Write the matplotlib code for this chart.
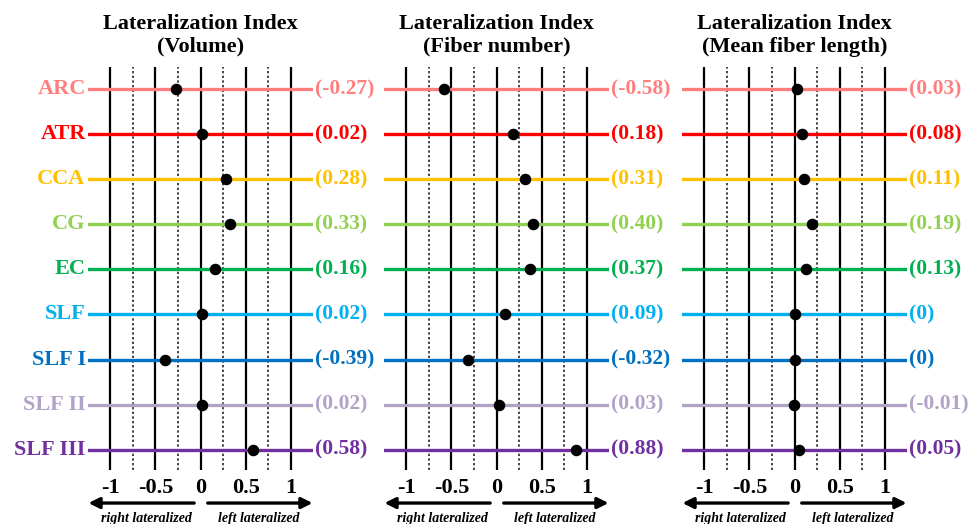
import matplotlib
matplotlib.use("Agg")
import matplotlib.pyplot as plt

# tract names and colours
tracts = ['ARC', 'ATR', 'CCA', 'CG', 'EC', 'SLF', 'SLF I', 'SLF II', 'SLF III']
colors = ['#FF7F7F', '#FF0000', '#FFC000', '#92D050', '#00B050',
          '#00B0F0', '#0070C0', '#B3A2C7', '#7030A0']

# lateralization index values
li_volume = [-0.27, 0.02, 0.28, 0.33, 0.16, 0.02, -0.39, 0.02, 0.58]
li_fiber_number = [-0.58, 0.18, 0.31, 0.40, 0.37, 0.09, -0.32, 0.03, 0.88]
li_fiber_length = [0.03, 0.08, 0.11, 0.19, 0.13, 0, 0, -0.01, 0.05]

titles = ['Lateralization Index\n(Volume)',
          'Lateralization Index\n(Fiber number)',
          'Lateralization Index\n(Mean fiber length)']
tick_vals = [-1, -0.5, 0, 0.5, 1]
tick_labels = ['-1', '-0.5', '0', '0.5', '1']

plt.rcParams['font.family'] = ['Liberation Serif', 'DejaVu Serif']

W, H = 971, 524
fig = plt.figure(figsize=(W / 100, H / 100), dpi=100)

panel_left = [88, 384, 682]  # pixel left edge of each panel
panel_w = 225
ax_top, ax_bot = 67, 470


def fmt(v):
    return '(0)' if v == 0 else f'({v:.2f})'


for k, (vals, title) in enumerate(zip([li_volume, li_fiber_number, li_fiber_length], titles)):
    ax = fig.add_axes([panel_left[k] / W, (H - ax_bot) / H, panel_w / W, (ax_bot - ax_top) / H])
    ax.set_xlim(-1.245, 1.245)
    ax.set_ylim(8.45, -0.49)

    # vertical grid: solid on the ticks, dotted in between
    for x in tick_vals:
        ax.axvline(x, color='black', lw=1.6, zorder=1)
    for x in [-0.75, -0.25, 0.25, 0.75]:
        ax.axvline(x, color='#444444', lw=1.4, ls=(0, (1.2, 1.2)), zorder=1)

    for i, (v, c) in enumerate(zip(vals, colors)):
        ax.axhline(i, color=c, lw=2.4, zorder=2)
        ax.plot(v, i, 'o', color='black', ms=7.3, zorder=3)
        ax.text(1.265, i, fmt(v), color=c, fontsize=15.5, fontweight='bold',
                va='center', ha='left', clip_on=False)
        if k == 0:
            ax.text(-1.27, i, tracts[i], color=c, fontsize=16, fontweight='bold',
                    va='center', ha='right', clip_on=False)

    ax.set_xticks(tick_vals)
    ax.set_xticklabels(tick_labels, fontsize=16, fontweight='bold')
    ax.tick_params(axis='x', length=0, pad=6)
    ax.set_yticks([])
    for s in ax.spines.values():
        s.set_visible(False)

    ax.set_title(title, fontsize=16, fontweight='bold', pad=11, linespacing=1.2,
                 family=['Liberation Serif', 'DejaVu Serif'])

    # direction arrows
    for x0, x1 in [(-0.07, -1.24), (0.08, 1.24)]:
        ax.annotate('', xy=(x1, -0.082), xytext=(x0, -0.082),
                    xycoords=('data', 'axes fraction'), textcoords=('data', 'axes fraction'),
                    arrowprops=dict(arrowstyle='-|>', color='black', lw=2.4,
                                    mutation_scale=16, shrinkA=0, shrinkB=0),
                    annotation_clip=False)
    ax.text(-0.6, -0.12, 'right lateralized', transform=ax.get_xaxis_transform(),
            ha='center', va='center', fontsize=10, fontweight='bold', style='italic')
    ax.text(0.64, -0.12, 'left lateralized', transform=ax.get_xaxis_transform(),
            ha='center', va='center', fontsize=10, fontweight='bold', style='italic')

fig.savefig('out.png', dpi=100)
